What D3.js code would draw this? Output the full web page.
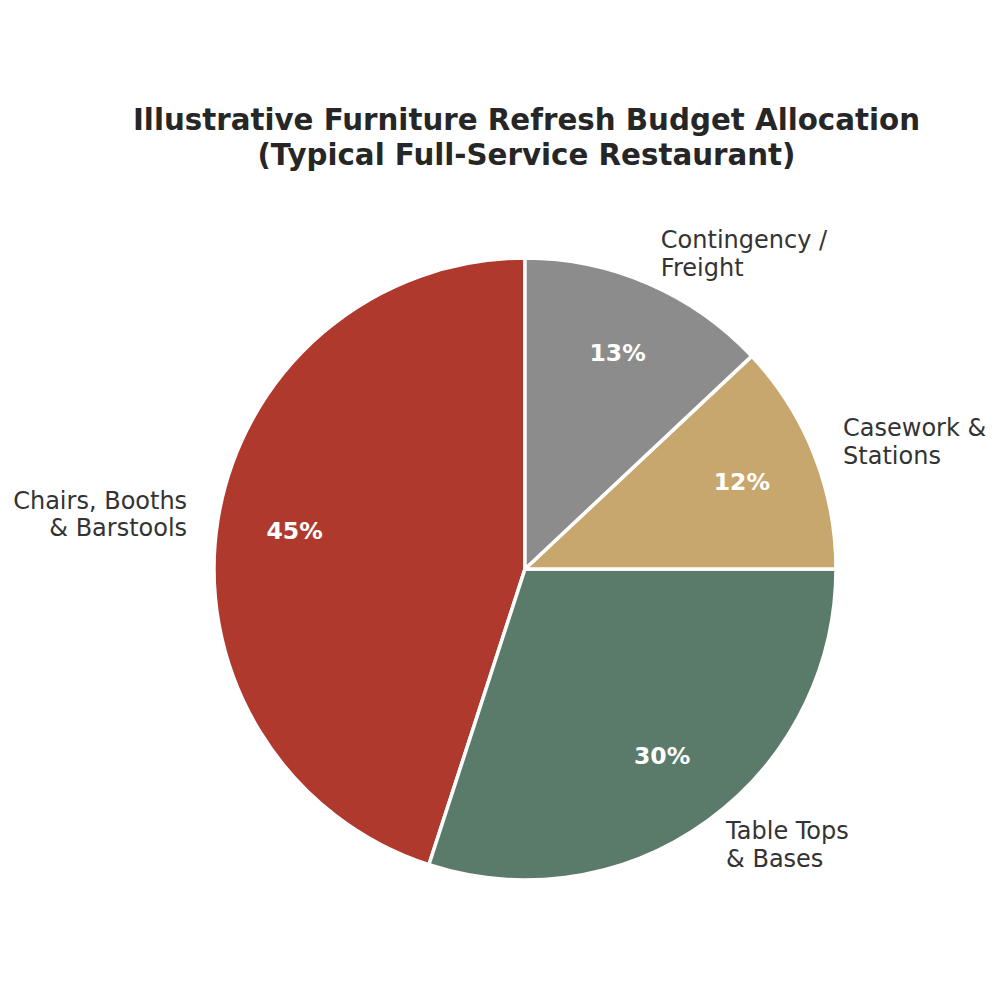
<!DOCTYPE html>
<html><head><meta charset="utf-8">
<script src="https://cdn.jsdelivr.net/npm/d3@7"></script>
<style>body{margin:0;background:#fff}</style>
</head><body>
<svg id="c" width="1000" height="1000"></svg>
<script>
const categories = ["Chairs, Booths\n& Barstools", "Table Tops\n& Bases", "Casework &\nStations", "Contingency /\nFreight"];
const values = [45, 30, 12, 13];
const colors = ["#B0392E", "#5B7B6A", "#C8A76F", "#8C8C8C"];
const titleLines = ["Illustrative Furniture Refresh Budget Allocation", "(Typical Full-Service Restaurant)"];

const svg = d3.select("#c");
const cx = 525, cy = 569, R = 311;
const font = "DejaVu Sans, sans-serif";

svg.append("text").attr("x", 526).attr("text-anchor", "middle")
  .style("font-family", font).style("font-weight", "bold").style("font-size", "29.3px").attr("fill", "#262626")
  .selectAll("tspan").data(titleLines).join("tspan")
  .attr("x", 526.5).attr("y", (d, i) => 120 + i * 35).attr("dominant-baseline", "central").text(d => d);

const data = categories.map((c, i) => ({label: c, value: values[i], color: colors[i]}));
// matplotlib: startangle 90, counterclockwise -> d3 angles clockwise from top, so negate
const pie = d3.pie().value(d => d.value).sort(null).startAngle(0).endAngle(-2 * Math.PI);
const arcs = pie(data);
const arc = d3.arc().innerRadius(0).outerRadius(R);
const g = svg.append("g").attr("transform", `translate(${cx},${cy})`);
g.selectAll("path").data(arcs).join("path")
  .attr("d", arc).attr("fill", d => d.data.color)
  .attr("stroke", "#fff").attr("stroke-width", 3.5).attr("stroke-linejoin", "round");

function pos(d, k) {
  const a = (d.startAngle + d.endAngle) / 2;
  return [Math.sin(a) * R * k, -Math.cos(a) * R * k];
}
g.selectAll("text.pct").data(arcs).join("text").attr("class", "pct")
  .attr("x", d => pos(d, 0.75)[0]).attr("y", d => pos(d, 0.75)[1] - 1.5)
  .attr("text-anchor", "middle").attr("dominant-baseline", "central")
  .style("font-family", font).style("font-weight", "bold").style("font-size", "23.5px").attr("fill", "#fff")
  .text(d => Math.round(d.data.value) + "%");

const lh = 27.5;
arcs.forEach(d => {
  const [x, y] = pos(d, 1.1);
  const lines = d.data.label.split("\n");
  const t = g.append("text").attr("text-anchor", x < 0 ? "end" : "start")
    .style("font-family", font).style("font-size", "24px").attr("fill", "#333");
  lines.forEach((l, i) => {
    t.append("tspan").attr("x", x).attr("y", y + (i - (lines.length - 1) / 2) * lh - 1)
      .attr("dominant-baseline", "central").text(l);
  });
});
</script>
</body></html>
